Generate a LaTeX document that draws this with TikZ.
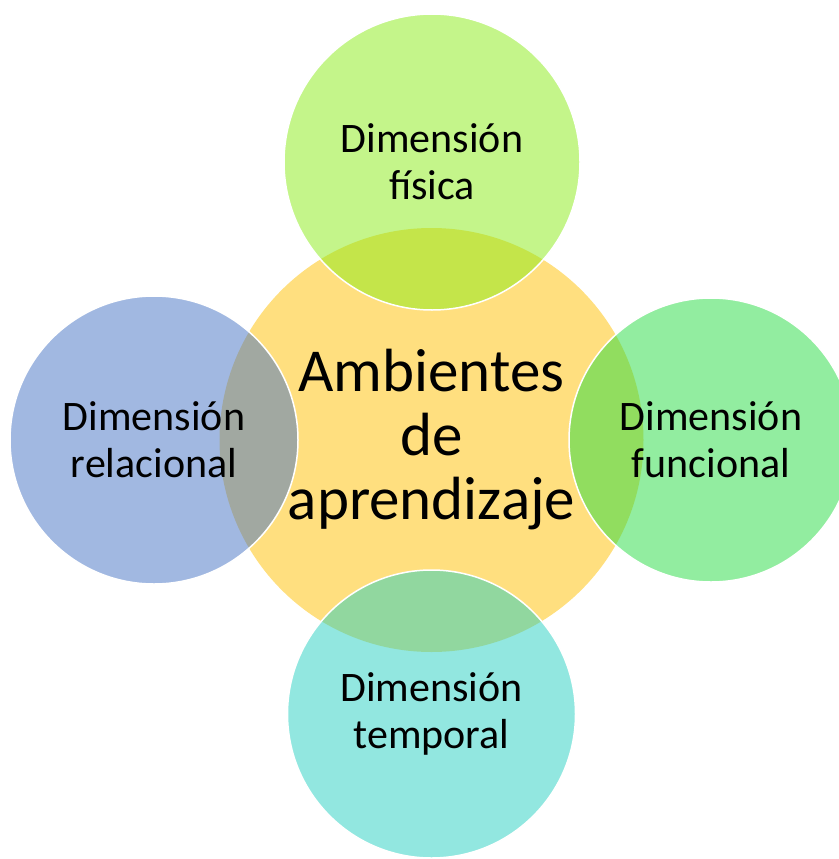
\documentclass[tikz,border=0pt]{standalone}
\usepackage{fontspec}
\setmainfont{Carlito}

\definecolor{ambcolor}{RGB}{255,192,0}
\definecolor{fiscolor}{RGB}{137,235,21}
\definecolor{relcolor}{RGB}{68,114,196}
\definecolor{funcolor}{RGB}{37,219,65}
\definecolor{temcolor}{RGB}{37,207,193}

\begin{document}
\begin{tikzpicture}[x=1pt,y=-1pt]
\tikzstyle{every node}+=[inner sep=0pt]
\tikzstyle{dim}=[circle, minimum size=286pt, draw=white, line width=1.5pt, fill opacity=0.5, text opacity=1, align=center, font=\fontsize{42}{47}\selectfont]
\useasboundingbox (0,0) rectangle (838,859);
\node [circle, minimum size=424pt, fill=ambcolor, fill opacity=0.5, text opacity=1, align=center, font=\fontsize{61}{64}\selectfont] (amb) at (431.5,440) {Ambientes\\de\\aprendizaje};
\node [dim, minimum size=296pt, fill=fiscolor] (fis) at (432,162) {Dimensión\\física};
\node [dim, minimum size=288pt, fill=relcolor] (rel) at (154,440) {Dimensión\\relacional};
\node [dim, minimum size=284pt, fill=funcolor] (fun) at (711,440) {Dimensión\\funcional};
\node [dim, minimum size=288pt, fill=temcolor] (tem) at (431.5,714) {Dimensión\\temporal};
\end{tikzpicture}
\end{document}
